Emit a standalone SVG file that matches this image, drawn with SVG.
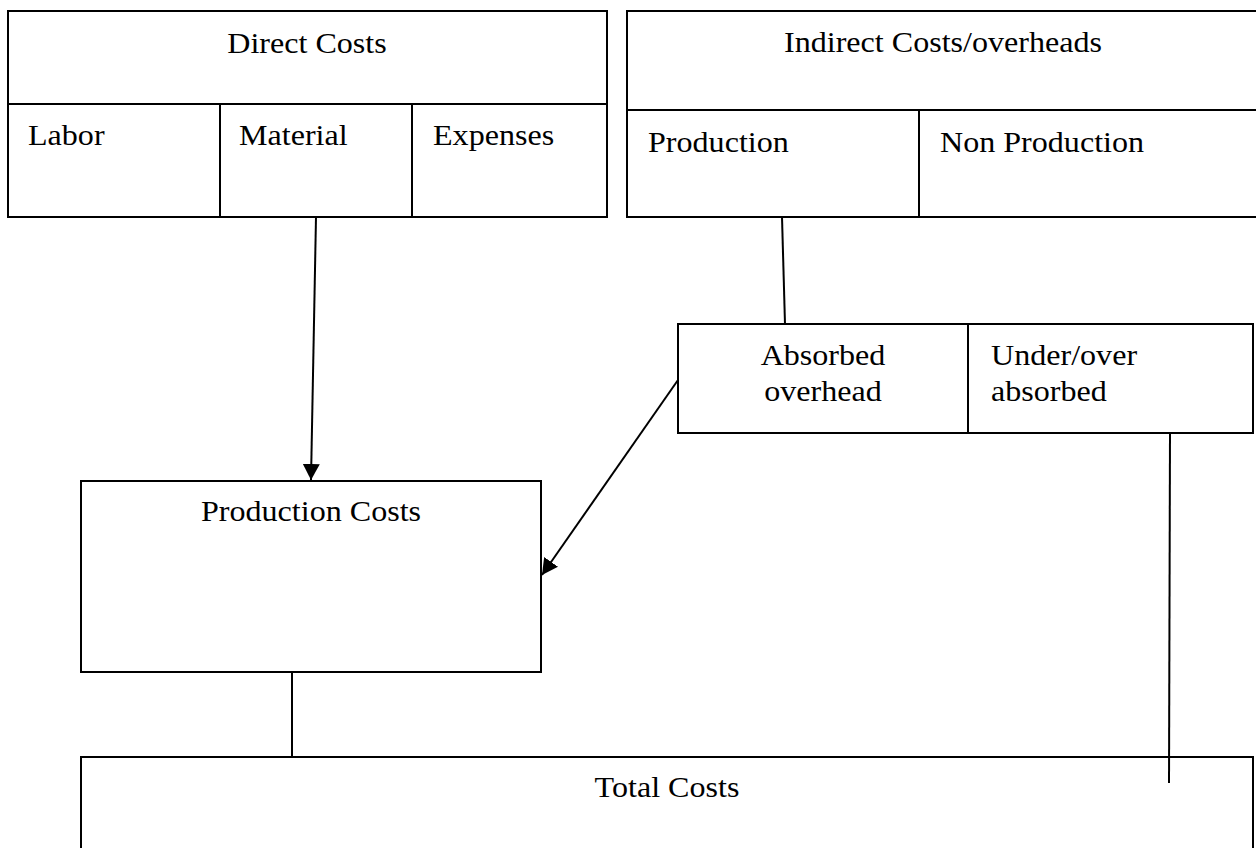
<svg xmlns="http://www.w3.org/2000/svg" width="1256" height="848" viewBox="0 0 1256 848">
<style>
.box{fill:#fff;stroke:#000;stroke-width:2}
.div{stroke:#000;stroke-width:2;fill:none}
.t{font-family:"Liberation Serif","Times New Roman",serif;font-size:30px;fill:#000}
.c{text-anchor:middle}
.con{stroke:#000;stroke-width:2;fill:none}
</style>
<defs>
<marker id="arr" markerUnits="userSpaceOnUse" markerWidth="17" markerHeight="17" refX="16" refY="8.5" orient="auto">
<path d="M0,0 L16,8.5 L0,17 z" fill="#000"/>
</marker>
</defs>
<rect width="1256" height="848" fill="#fff"/>
<g id="direct-costs">
<rect class="box" x="8" y="11" width="599" height="206"/>
<line class="div" x1="8" y1="104" x2="607" y2="104"/>
<line class="div" x1="220" y1="104" x2="220" y2="217"/>
<line class="div" x1="412" y1="104" x2="412" y2="217"/>
<text class="t c" transform="translate(307,53) scale(1.07,1)">Direct Costs</text>
<text class="t" transform="translate(28,145) scale(1.07,1)">Labor</text>
<text class="t" transform="translate(239,145) scale(1.07,1)">Material</text>
<text class="t" transform="translate(433,145) scale(1.07,1)">Expenses</text>
</g>
<g id="indirect-costs">
<rect class="box" x="627" y="11" width="640" height="206"/>
<line class="div" x1="627" y1="110" x2="1260" y2="110"/>
<line class="div" x1="919" y1="110" x2="919" y2="217"/>
<text class="t c" transform="translate(943,52) scale(1.07,1)">Indirect Costs/overheads</text>
<text class="t" transform="translate(648,152) scale(1.07,1)">Production</text>
<text class="t" transform="translate(940,152) scale(1.07,1)">Non Production</text>
</g>
<g id="absorbed">
<rect class="box" x="678" y="324" width="575" height="109"/>
<line class="div" x1="968" y1="324" x2="968" y2="433"/>
<text class="t c" transform="translate(823,365) scale(1.07,1)">Absorbed</text>
<text class="t c" transform="translate(823,401) scale(1.07,1)">overhead</text>
<text class="t" transform="translate(991,365) scale(1.07,1)">Under/over</text>
<text class="t" transform="translate(991,401) scale(1.07,1)">absorbed</text>
</g>
<g id="production-costs">
<rect class="box" x="81" y="481" width="460" height="191"/>
<text class="t c" transform="translate(311,521) scale(1.07,1)">Production Costs</text>
</g>
<g id="total-costs">
<rect class="box" x="81" y="757" width="1172" height="110"/>
<text class="t c" transform="translate(667,797) scale(1.07,1)">Total Costs</text>
</g>
<g id="connectors">
<line class="con" x1="316" y1="217" x2="311" y2="480" marker-end="url(#arr)"/>
<line class="con" x1="782" y1="217" x2="785" y2="324"/>
<line class="con" x1="678" y1="380" x2="542" y2="575" marker-end="url(#arr)"/>
<line class="con" x1="292" y1="672" x2="292" y2="757"/>
<line class="con" x1="1170" y1="433" x2="1169" y2="783"/>
</g>
</svg>
